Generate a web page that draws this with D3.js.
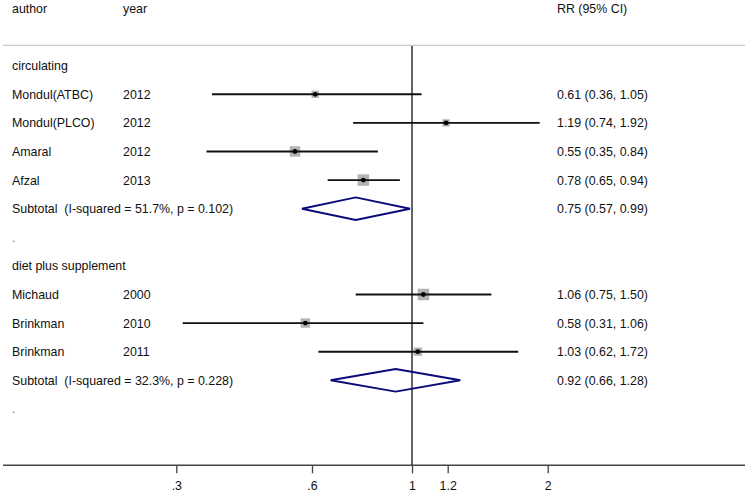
<!DOCTYPE html>
<html>
<head>
<meta charset="utf-8">
<script src="https://cdn.jsdelivr.net/npm/d3@7"></script>
<style>
  html, body { margin: 0; padding: 0; background: #fff; }
  text { font-family: "Liberation Sans", Arial, sans-serif; font-size: 12.4px; fill: #111; white-space: pre; }
</style>
</head>
<body>
<svg id="chart" width="750" height="495"></svg>
<script>
// ---- data ----
const groupNames = ["circulating", "diet plus supplement"];
const studyGroup = [0, 0, 0, 0, 1, 1, 1];
const authors = ["Mondul(ATBC)", "Mondul(PLCO)", "Amaral", "Afzal", "Michaud", "Brinkman", "Brinkman"];
const years = ["2012", "2012", "2012", "2013", "2000", "2010", "2011"];
const rr = [0.61, 1.19, 0.55, 0.78, 1.06, 0.58, 1.03];
const lo = [0.36, 0.74, 0.35, 0.65, 0.75, 0.31, 0.62];
const hi = [1.05, 1.92, 0.84, 0.94, 1.50, 1.06, 1.72];
const weights = [8.4, 8.4, 17.1, 20.7, 20.7, 13.8, 10.9];
const subLabels = ["Subtotal  (I-squared = 51.7%, p = 0.102)", "Subtotal  (I-squared = 32.3%, p = 0.228)"];
const subRR = [0.75, 0.92];
const subLo = [0.57, 0.66];
const subHi = [0.99, 1.28];
const tickValues = [0.3, 0.6, 1, 1.2, 2];
const tickLabels = [".3", ".6", "1", "1.2", "2"];
const headers = ["author", "year", "RR (95% CI)"];

const fmt = d3.format(".2f");

// build row list
const rows = [];
groupNames.forEach((g, gi) => {
  rows.push({ type: "group", label: g });
  authors.forEach((a, i) => {
    if (studyGroup[i] === gi) rows.push({ type: "study", i });
  });
  rows.push({ type: "sub", gi });
  rows.push({ type: "blank" });
});

const svg = d3.select("#chart");
const x = d3.scaleLog().domain([0.3, 2]).range([176.3, 547.7]);
const y = d3.scaleLinear().domain([-2, 12]).range([8.5, 408.9]);
const box = d3.scaleSqrt().domain([0, 20.7]).range([0, 11.5]);

const colAuthor = 12, colYear = 123, colRR = 557;
const axisY = 465.3;
const dy = 4.4;

// header
svg.append("text").attr("x", colAuthor).attr("y", y(-2) + dy).text(headers[0]);
svg.append("text").attr("x", colYear).attr("y", y(-2) + dy).text(headers[1]);
svg.append("text").attr("x", colRR).attr("y", y(-2) + dy).text(headers[2]);

// separator line
svg.append("line").attr("x1", 3).attr("x2", 745).attr("y1", 45.3).attr("y2", 45.3)
  .attr("stroke", "#c8c8c8").attr("stroke-width", 1.3);

// null line
svg.append("line").attr("x1", x(1)).attr("x2", x(1)).attr("y1", 46).attr("y2", axisY)
  .attr("stroke", "#333").attr("stroke-width", 1.5);

rows.forEach((r, ri) => {
  const yy = y(ri);
  if (r.type === "group") {
    svg.append("text").attr("x", colAuthor).attr("y", yy + dy).text(r.label);
  } else if (r.type === "blank") {
    svg.append("text").attr("x", colAuthor).attr("y", yy + dy).text(".").style("fill", "#777");
  } else if (r.type === "study") {
    const i = r.i;
    svg.append("text").attr("x", colAuthor).attr("y", yy + dy).text(authors[i]);
    svg.append("text").attr("x", colYear).attr("y", yy + dy).text(years[i]);
    svg.append("text").attr("x", colRR).attr("y", yy + dy)
      .text(`${fmt(rr[i])} (${fmt(lo[i])}, ${fmt(hi[i])})`);
    const s = box(weights[i]);
    svg.append("rect").attr("x", x(rr[i]) - s / 2).attr("y", yy - s / 2)
      .attr("width", s).attr("height", s).attr("fill", "#b3b3b3");
    svg.append("line").attr("x1", x(lo[i])).attr("x2", x(hi[i])).attr("y1", yy).attr("y2", yy)
      .attr("stroke", "#111").attr("stroke-width", 1.9);
    svg.append("circle").attr("cx", x(rr[i])).attr("cy", yy).attr("r", 2.4).attr("fill", "#000");
  } else if (r.type === "sub") {
    const g = r.gi;
    svg.append("text").attr("x", colAuthor).attr("y", yy + dy).text(subLabels[g]);
    svg.append("text").attr("x", colRR).attr("y", yy + dy)
      .text(`${fmt(subRR[g])} (${fmt(subLo[g])}, ${fmt(subHi[g])})`);
    const h = 11.3;
    const pts = [[x(subLo[g]), yy], [x(subRR[g]), yy - h], [x(subHi[g]), yy], [x(subRR[g]), yy + h]];
    svg.append("path").attr("d", d3.line()(pts) + "Z")
      .attr("fill", "none").attr("stroke", "#0a0a7a").attr("stroke-width", 1.9)
      .attr("stroke-linejoin", "miter");
  }
});

// axis
svg.append("line").attr("x1", 3).attr("x2", 745).attr("y1", axisY).attr("y2", axisY)
  .attr("stroke", "#444").attr("stroke-width", 1.5);
const axis = d3.axisBottom(x).tickValues(tickValues)
  .tickFormat((d, i) => tickLabels[i]).tickSize(8).tickPadding(8);
const ag = svg.append("g").attr("transform", `translate(0,${axisY})`).call(axis);
ag.select(".domain").remove();
ag.selectAll(".tick line").attr("stroke", "#444").attr("stroke-width", 1.3);
ag.selectAll(".tick text").attr("fill", "#111")
  .style("font-family", '"Liberation Sans", Arial, sans-serif').style("font-size", "12.4px");
</script>
</body>
</html>
